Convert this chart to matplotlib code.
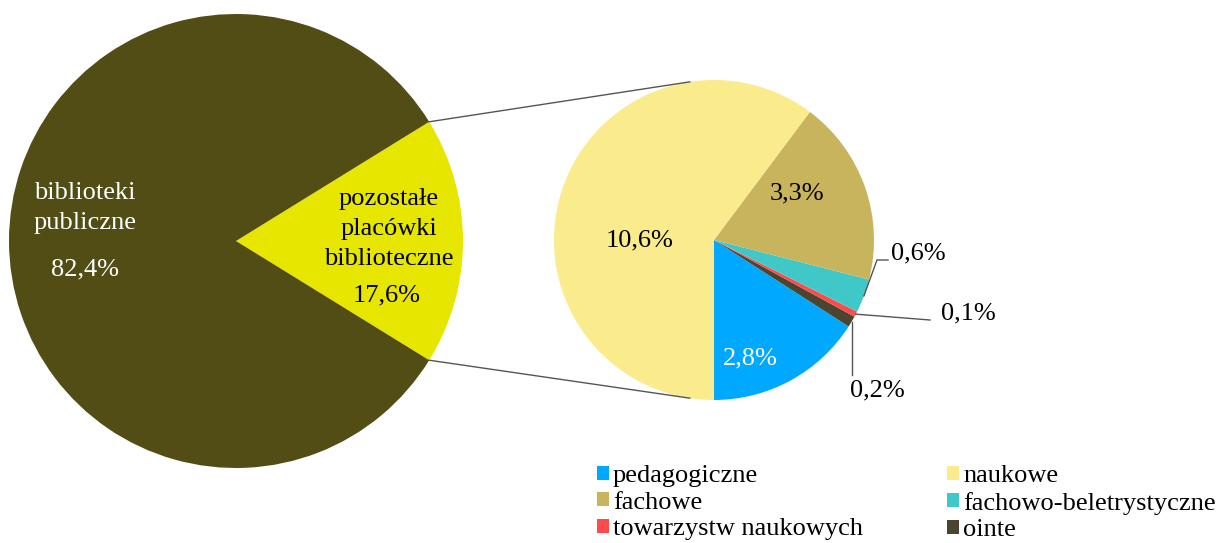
import numpy as np
import matplotlib
matplotlib.use("Agg")
import matplotlib.pyplot as plt
from matplotlib.patches import Patch

plt.rcParams['font.family'] = ['Liberation Serif', 'DejaVu Serif']

# ----------------------------
# DATA
# ----------------------------
main_labels = ["pozostałe\nplacówki\nbiblioteczne", "biblioteki\npubliczne"]
main_values = [17.6, 82.4]
main_colors = ["#E6E600", "#524C15"]

# order of the small pie, counterclockwise from the bottom
sub_labels = ["pedagogiczne", "ointe", "towarzystw naukowych",
              "fachowo-beletrystyczne", "fachowe", "naukowe"]
sub_values = [2.8, 0.2, 0.1, 0.6, 3.3, 10.6]
sub_colors = ["#00A8FF", "#4B4530", "#FF4B4B", "#40C8C8", "#C8B45C", "#FAEB8C"]

# legend order (column-wise for ncol=2)
legend_order = ["pedagogiczne", "fachowe", "towarzystw naukowych",
                "naukowe", "fachowo-beletrystyczne", "ointe"]

def pl(v):
    return f"{v:.1f}".replace(".", ",") + "%"

# ----------------------------
# LAYOUT (pixel units)
# ----------------------------
W, H = 1226, 543
FS = 19
big_c, big_r = (236, H - 241), 227
sm_c, sm_r = (714, H - 240), 160

fig = plt.figure(figsize=(W / 100, H / 100), dpi=100)
ax = fig.add_axes([0, 0, 1, 1])

# big pie, "pozostałe" slice centered on the right
half = main_values[0] * 3.6 / 2
big_wedges, _ = ax.pie(main_values, colors=main_colors, center=big_c,
                       radius=big_r, startangle=-half, counterclock=True,
                       wedgeprops=dict(linewidth=0), frame=True)

# small pie
sm_wedges, _ = ax.pie(sub_values, colors=sub_colors, center=sm_c,
                      radius=sm_r, startangle=270, counterclock=True,
                      wedgeprops=dict(linewidth=0), frame=True)
ax.set_xlim(0, W)
ax.set_ylim(0, H)
ax.set_aspect("equal")
ax.axis("off")

def edge(c, r, ang):
    a = np.deg2rad(ang)
    return c[0] + r * np.cos(a), c[1] + r * np.sin(a)

# connector lines
for a_big, a_sm in [(half, 98.7), (-half, 261.3)]:
    p1 = edge(big_c, big_r, a_big)
    p2 = edge(sm_c, sm_r, a_sm)
    ax.plot([p1[0], p2[0]], [p1[1], p2[1]], color="#555555", lw=1)

# big pie labels
ax.text(85, H - 208, main_labels[1], color="white", fontsize=FS,
        ha="center", va="center", linespacing=1.45)
ax.text(85, H - 269, pl(main_values[1]), color="white", fontsize=FS,
        ha="center", va="center")
ax.text(389, H - 229, main_labels[0], color="black", fontsize=FS,
        ha="center", va="center", linespacing=1.45)
ax.text(387, H - 295, pl(main_values[0]), color="black", fontsize=FS,
        ha="center", va="center")

# small pie labels
inside = {"naukowe": ((640, 240), "black"),
          "fachowe": ((797, 193), "black"),
          "pedagogiczne": ((750, 358), "white")}
for w, lab, v in zip(sm_wedges, sub_labels, sub_values):
    if lab in inside:
        (x, y), col = inside[lab]
        ax.text(x, H - y, pl(v), color=col, fontsize=FS, ha="center", va="center")

# small slices with leader lines
mid = {lab: (w.theta1 + w.theta2) / 2 for w, lab in zip(sm_wedges, sub_labels)}
vals = dict(zip(sub_labels, sub_values))

p = edge(sm_c, sm_r, mid["fachowo-beletrystyczne"])
ax.plot([p[0], 877, 888], [p[1], H - 260, H - 260], color="#555555", lw=1)
ax.text(918, H - 253, pl(vals["fachowo-beletrystyczne"]), fontsize=FS,
        ha="center", va="center")

p = edge(sm_c, sm_r, mid["towarzystw naukowych"])
ax.plot([p[0], 930], [p[1], H - 320], color="#555555", lw=1)
ax.text(968, H - 313, pl(vals["towarzystw naukowych"]), fontsize=FS,
        ha="center", va="center")

p = edge(sm_c, sm_r, mid["ointe"])
ax.plot([p[0], p[0]], [p[1], H - 375], color="#555555", lw=1)
ax.text(877, H - 390, pl(vals["ointe"]), fontsize=FS, ha="center", va="center")

# legend
col_of = dict(zip(sub_labels, sub_colors))
handles = [Patch(facecolor=col_of[l], edgecolor="none", label=l) for l in legend_order]
fig.legend(handles=handles, ncol=2, frameon=False, fontsize=FS,
           loc="upper left", bbox_to_anchor=(597 / W, 1 - 465 / H),
           handlelength=0.45, handleheight=0.45, handletextpad=0.15,
           labelspacing=0.18, columnspacing=3.2, borderaxespad=0, borderpad=0)

fig.savefig("out.png", dpi=100)
